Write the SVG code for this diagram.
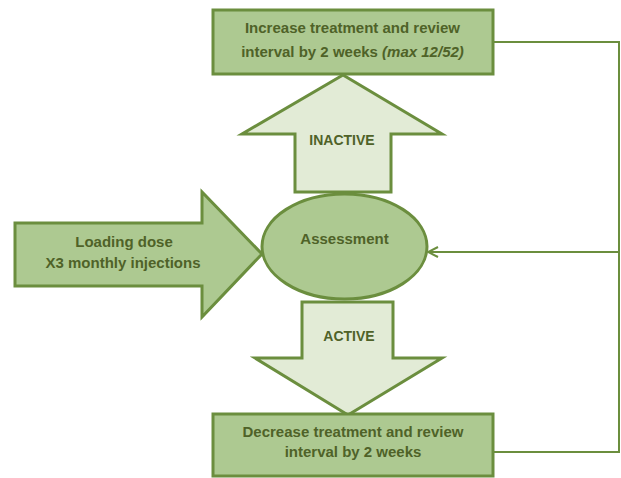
<svg xmlns="http://www.w3.org/2000/svg" width="621" height="478" viewBox="0 0 621 478">
<defs>
<style>
.box{fill:#ADC991;stroke:#6B8E3E;stroke-width:3}
.light{fill:#E2EBD6;stroke:#6B8E3E;stroke-width:3;stroke-linejoin:miter}
.t{font-family:"Liberation Sans",Arial,sans-serif;font-weight:bold;fill:#4F6228;text-anchor:middle}
.conn{fill:none;stroke:#6B8E3E;stroke-width:2}
</style>
<marker id="open" viewBox="0 0 12 12" refX="11" refY="6" markerWidth="12" markerHeight="12" markerUnits="userSpaceOnUse" orient="auto">
<path d="M1,1 L11,6 L1,11" fill="none" stroke="#6B8E3E" stroke-width="2"/>
</marker>
</defs>
<rect width="621" height="478" fill="#FFFFFF"/>
<g id="connectors">
<polyline class="conn" points="493,42 619,42 619,452 493,452"/>
<line class="conn" x1="619" y1="252" x2="428" y2="252" marker-end="url(#open)"/>
</g>
<g id="loading">
<polygon class="box" points="15,223 202,223 202,192 262,254 202,317 202,286 15,286"/>
<text class="t" font-size="15" x="124" y="247">Loading dose</text>
<text class="t" font-size="15" x="123" y="268">X3 monthly injections</text>
</g>
<g id="inactive">
<polygon class="light" points="295,192 295,134 242,134 343,75 442,134 391,134 391,192"/>
<text class="t" font-size="14" x="342" y="145">INACTIVE</text>
</g>
<g id="active">
<polygon class="light" points="302,302 393,302 393,358 442,358 348,415 255,358 302,358"/>
<text class="t" font-size="14" x="349" y="341">ACTIVE</text>
</g>
<g id="assessment">
<ellipse class="box" cx="344.5" cy="246.5" rx="82.5" ry="52.5"/>
<text class="t" font-size="15" x="344.5" y="244">Assessment</text>
</g>
<g id="increase">
<rect class="box" x="213" y="10" width="280" height="64"/>
<text class="t" font-size="15" x="352.5" y="33">Increase treatment and review</text>
<text class="t" font-size="15" x="352.5" y="57">interval by 2 weeks <tspan font-style="italic">(max 12/52)</tspan></text>
</g>
<g id="decrease">
<rect class="box" x="213" y="414" width="280" height="62"/>
<text class="t" font-size="15" x="353" y="437">Decrease treatment and review</text>
<text class="t" font-size="15" x="353" y="457">interval by 2 weeks</text>
</g>
</svg>
